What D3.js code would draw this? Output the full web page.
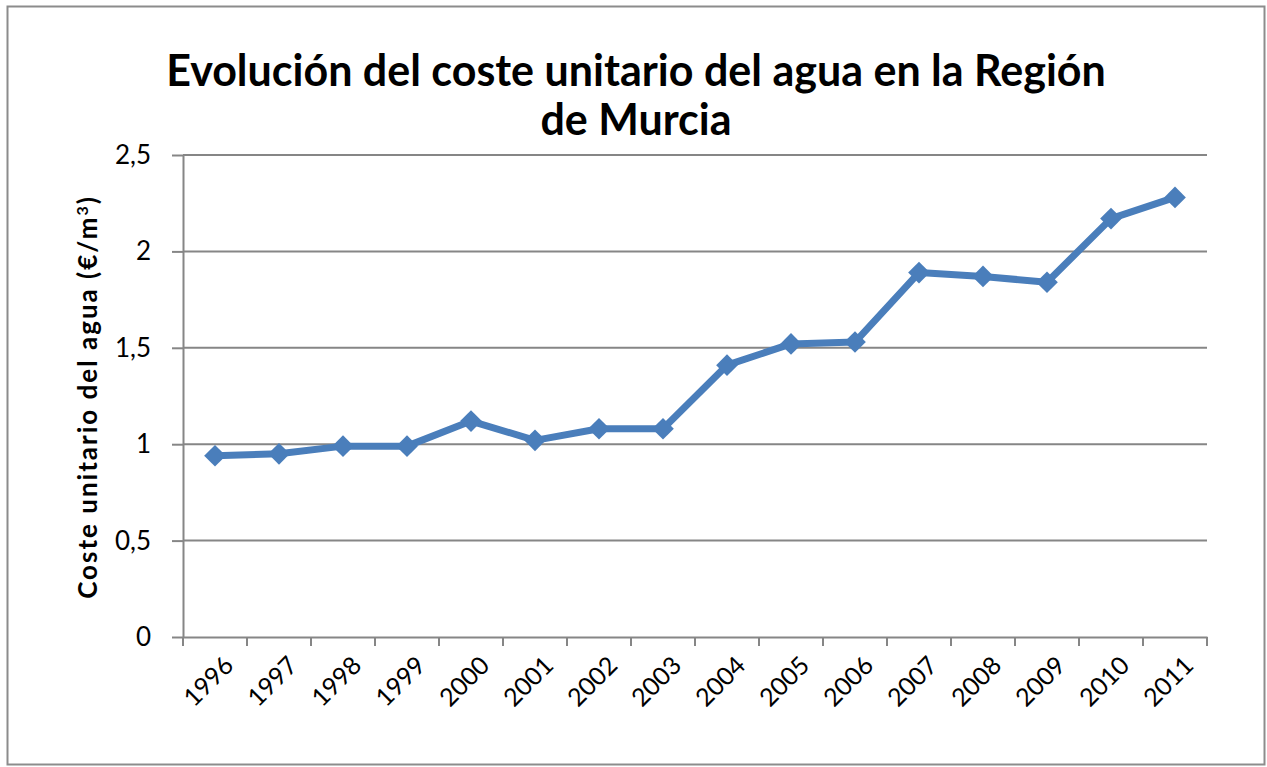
<!DOCTYPE html>
<html>
<head>
<meta charset="utf-8">
<script src="https://cdn.jsdelivr.net/npm/d3@7"></script>
<style>
  body { margin: 0; background: #fff; }
  text { font-family: Lato, "Open Sans", sans-serif; fill: #000; }
</style>
</head>
<body>
<div id="chart"></div>
<script>
// data
const years = ["1996", "1997", "1998", "1999", "2000", "2001", "2002", "2003",
  "2004", "2005", "2006", "2007", "2008", "2009", "2010", "2011"];
const coste = [0.94, 0.95, 0.99, 0.99, 1.12, 1.02, 1.08, 1.08,
  1.41, 1.52, 1.53, 1.89, 1.87, 1.84, 2.17, 2.28];
const yTicks = [0, 0.5, 1, 1.5, 2, 2.5];

const width = 1267, height = 767;
const plotLeft = 183, plotRight = 1207, plotTop = 155, plotBottom = 637;

const svg = d3.select("#chart").append("svg")
  .attr("width", width)
  .attr("height", height);

// outer frame
svg.append("rect")
  .attr("x", 7.5).attr("y", 6.5)
  .attr("width", 1257).attr("height", 758)
  .attr("fill", "#fff")
  .attr("stroke", "#8c8c8c")
  .attr("stroke-width", 2);

const x = d3.scaleBand().domain(years).range([plotLeft, plotRight]);
const y = d3.scaleLinear().domain([0, 2.5]).range([plotBottom, plotTop]);
const fmt = d => d3.format("")(d).replace(".", ",");

// gridlines
svg.append("g")
  .selectAll("line")
  .data(yTicks.filter(d => d > 0))
  .enter()
  .append("line")
  .attr("x1", plotLeft).attr("x2", plotRight)
  .attr("y1", d => y(d)).attr("y2", d => y(d))
  .attr("stroke", "#868686")
  .attr("stroke-width", 2);

// y axis
const yAxis = svg.append("g")
  .attr("transform", `translate(${plotLeft},0)`)
  .call(d3.axisLeft(y).tickValues(yTicks).tickFormat(fmt).tickSize(11).tickSizeOuter(0));
yAxis.select(".domain").attr("stroke", "#868686").attr("stroke-width", 2);
yAxis.selectAll(".tick line").attr("stroke", "#868686").attr("stroke-width", 2);
yAxis.selectAll("text")
  .attr("font-size", 26)
  .attr("x", -32)
  .attr("dy", "0.33em")
  .style("font-family", "Lato, sans-serif");

// x axis
const xAxis = svg.append("g")
  .attr("transform", `translate(0,${plotBottom})`)
  .call(d3.axisBottom(x).tickSize(0).tickSizeOuter(0));
xAxis.select(".domain").attr("stroke", "#868686").attr("stroke-width", 2);
xAxis.selectAll(".tick line").remove();

// category boundary ticks
svg.append("g")
  .selectAll("line")
  .data(years.concat(["end"]))
  .enter()
  .append("line")
  .attr("x1", (d, i) => plotLeft + i * x.bandwidth())
  .attr("x2", (d, i) => plotLeft + i * x.bandwidth())
  .attr("y1", plotBottom).attr("y2", plotBottom + 9)
  .attr("stroke", "#868686")
  .attr("stroke-width", 2);

xAxis.selectAll("text")
  .attr("font-size", 25)
  .attr("text-anchor", "end")
  .attr("y", 0)
  .attr("dy", 0)
  .attr("transform", "translate(20,30) rotate(-45)")
  .style("font-family", "Lato, sans-serif");

// line
const line = d3.line()
  .x((d, i) => x(years[i]) + x.bandwidth() / 2)
  .y(d => y(d));

svg.append("path")
  .datum(coste)
  .attr("d", line)
  .attr("fill", "none")
  .attr("stroke", "#4a7ebb")
  .attr("stroke-width", 7)
  .attr("stroke-linejoin", "round");

// diamond markers
svg.append("g")
  .selectAll("path")
  .data(coste)
  .enter()
  .append("path")
  .attr("d", d3.symbol().type(d3.symbolDiamond2).size(300))
  .attr("transform", (d, i) => `translate(${x(years[i]) + x.bandwidth() / 2},${y(d)})`)
  .attr("fill", "#4a7ebb");

// title
const title = svg.append("text")
  .attr("text-anchor", "middle")
  .attr("font-weight", 700)
  .attr("font-size", 43);
title.append("tspan").attr("x", 636).attr("y", 86).text("Evolución del coste unitario del agua en la Región");
title.append("tspan").attr("x", 636).attr("y", 135).text("de Murcia");

// y axis title
const yt = svg.append("text")
  .attr("transform", "translate(97,397) rotate(-90)")
  .attr("text-anchor", "middle")
  .attr("font-weight", 700)
  .attr("font-size", 26)
  .attr("letter-spacing", 2);
yt.append("tspan").text("Coste unitario del agua  (€/m");
yt.append("tspan").attr("baseline-shift", "super").attr("font-size", 16).text("3");
yt.append("tspan").text(")");
</script>
</body>
</html>
